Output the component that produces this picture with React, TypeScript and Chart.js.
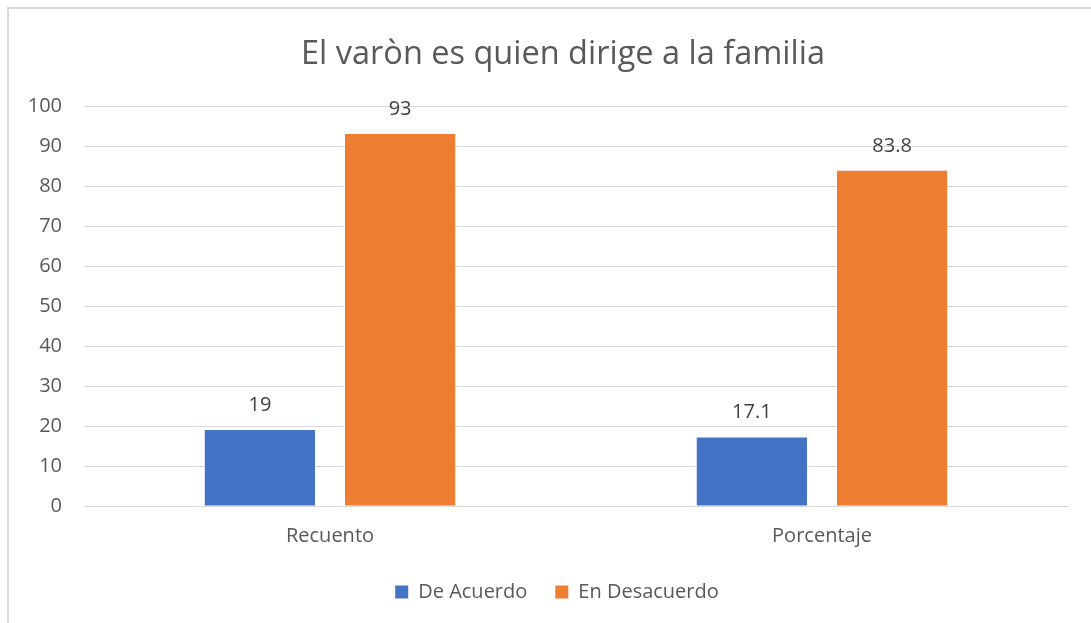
import React, { useEffect, useRef } from "react";
import { Chart, registerables } from "chart.js";

Chart.register(...registerables);

const categories = ["Recuento", "Porcentaje"];
const deAcuerdo = [19, 17.1];
const enDesacuerdo = [93, 83.8];
const seriesNames = ["De Acuerdo", "En Desacuerdo"];
const titleText = "El varòn es quien dirige a la familia";

const FONT = "'Open Sans', 'Liberation Sans', sans-serif";
const TXT = "#595959";

const dataLabels = {
  id: "dataLabels",
  afterDatasetsDraw(chart: any) {
    const ctx = chart.ctx;
    ctx.save();
    ctx.font = `20px ${FONT}`;
    ctx.fillStyle = "#404040";
    ctx.textAlign = "center";
    ctx.textBaseline = "bottom";
    chart.data.datasets.forEach((ds: any, i: number) => {
      const meta = chart.getDatasetMeta(i);
      meta.data.forEach((bar: any, j: number) => {
        ctx.fillText(String(ds.data[j]), bar.x, bar.y - 15);
      });
    });
    ctx.restore();
  },
};

const shiftBoxes = {
  id: "shiftBoxes",
  afterLayout(chart: any) {
    const t = chart.titleBlock;
    if (t) {
      t.left += 29;
      t.right += 29;
    }
    const l = chart.legend;
    if (l) {
      l.left += 23;
      l.right += 23;
      l.top -= 4;
      l.bottom -= 4;
    }
  },
};

export default function App() {
  const ref = useRef<HTMLCanvasElement>(null);
  useEffect(() => {
    const chart = new Chart(ref.current!, {
      type: "bar",
      data: {
        labels: categories,
        datasets: [
          {
            label: seriesNames[0],
            data: deAcuerdo,
            backgroundColor: "#4472C4",
            categoryPercentage: 0.57,
            barPercentage: 0.786,
          },
          {
            label: seriesNames[1],
            data: enDesacuerdo,
            backgroundColor: "#ED7D31",
            categoryPercentage: 0.57,
            barPercentage: 0.786,
          },
        ],
      },
      options: {
        animation: false,
        responsive: false,
        maintainAspectRatio: false,
        layout: { padding: { left: 0, right: 23, top: 0, bottom: 7 } },
        plugins: {
          title: {
            display: true,
            text: titleText,
            color: TXT,
            font: { family: FONT, size: 32.5, weight: "normal" },
            padding: { top: 35, bottom: 32 },
          },
          legend: {
            position: "bottom",
            labels: {
              color: TXT,
              font: { family: FONT, size: 20 },
              boxWidth: 13,
              boxHeight: 13,
              padding: 28,
            },
          },
          tooltip: { enabled: false },
        },
        scales: {
          x: {
            grid: { display: false },
            border: { display: true, color: "#d9d9d9", width: 1 },
            ticks: { color: TXT, font: { family: FONT, size: 20 }, padding: 10 },
          },
          y: {
            min: 0,
            max: 100,
            ticks: {
              stepSize: 10,
              color: TXT,
              font: { family: FONT, size: 20 },
              padding: 22,
            },
            grid: { color: "#d9d9d9", drawTicks: false },
            border: { display: false },
            afterFit: (s: any) => {
              s.width = 84;
            },
          },
        },
      },
      plugins: [dataLabels, shiftBoxes],
    });
    return () => chart.destroy();
  }, []);
  return (
    <div style={{ position: "absolute", left: 0, top: 0, width: 1091, height: 623, background: "#fff" }}>
      <div
        style={{
          position: "absolute",
          left: 7,
          top: 7,
          width: 1084,
          height: 616,
          borderLeft: "2px solid #d9d9d9",
          borderTop: "2px solid #d9d9d9",
          boxSizing: "border-box",
        }}
      />
      <canvas ref={ref} width={1091} height={623} style={{ position: "absolute", left: 0, top: 0 }} />
    </div>
  );
}
